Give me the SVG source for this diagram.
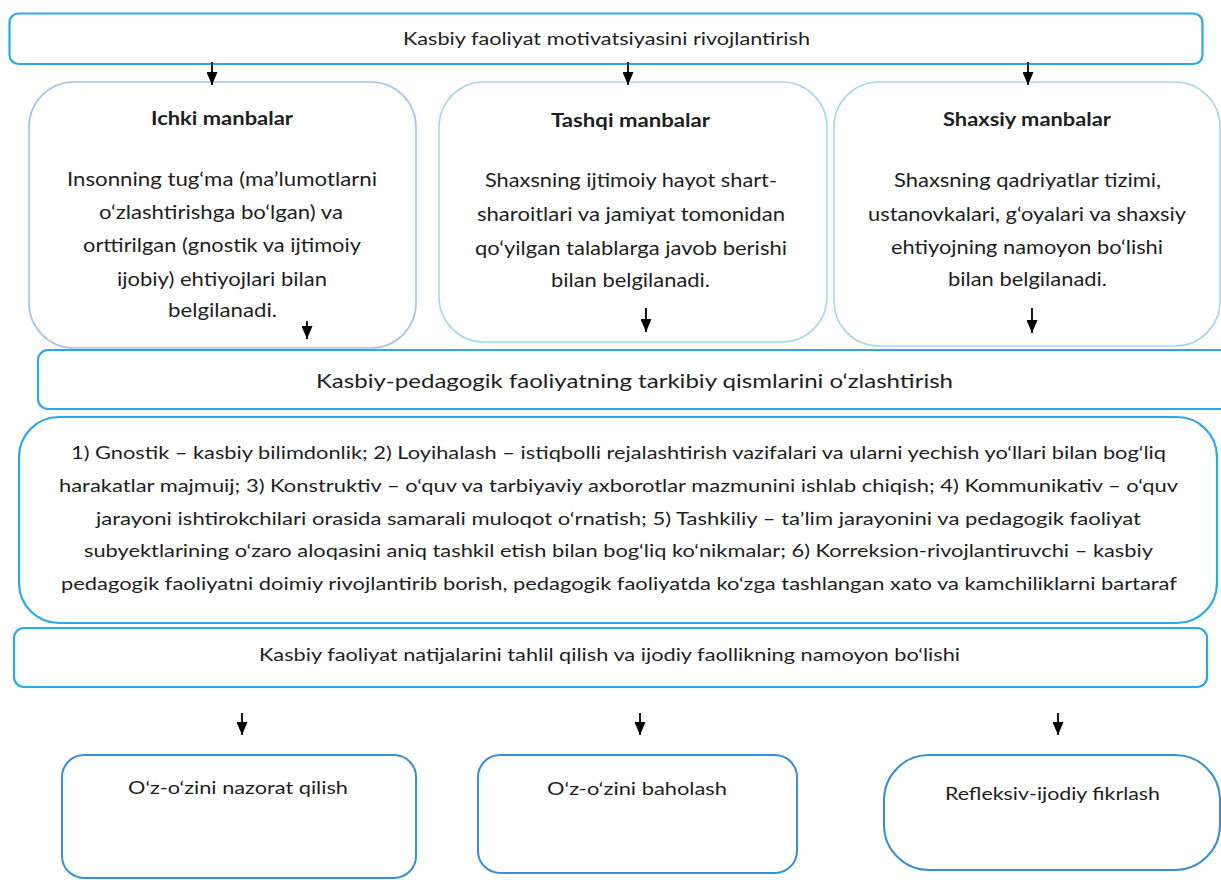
<svg xmlns="http://www.w3.org/2000/svg" width="1221" height="880" viewBox="0 0 1221 880">
<style>
text{font-family:Lato,"Open Sans","Noto Sans",sans-serif;fill:#1e1e1e;text-anchor:middle}
.t18{font-size:18px}
.t20{font-size:20px}
.b{font-size:19px;font-weight:bold}
.box{fill:#fff}
.c1{stroke:#2aa9ea;stroke-width:2.2}
.c2{stroke:#9fc4ee;stroke-width:1.6}
.c3{stroke:#a8d8ea;stroke-width:1.6}
.c4{stroke:#3b8fd6;stroke-width:2}
.arr{stroke:#000;stroke-width:1.8;fill:none;marker-end:url(#ah)}
</style>
<defs>
<marker id="ah" viewBox="0 0 13 11" refX="13" refY="5.5" markerWidth="13" markerHeight="11" markerUnits="userSpaceOnUse" orient="auto">
<path d="M0,0 L13,5.5 L0,11 z" fill="#000"/>
</marker>
</defs>
<rect width="1221" height="880" fill="#fff"/>
<g id="node-top">
<rect class="box c1" x="9.5" y="13.5" width="1193" height="50.5" rx="9"/>
<text class="t18" x="606.5" y="45" textLength="407" lengthAdjust="spacingAndGlyphs">Kasbiy faoliyat motivatsiyasini rivojlantirish</text>
</g>
<g id="node-ichki">
<rect class="box c2" x="29" y="82" width="387" height="266" rx="45"/>
<text class="b" x="222" y="125" textLength="142" lengthAdjust="spacingAndGlyphs">Ichki manbalar</text>
<text class="t20" x="222" y="186" textLength="310" lengthAdjust="spacingAndGlyphs">Insonning tug‘ma (ma’lumotlarni</text>
<text class="t20" x="221" y="219" textLength="244" lengthAdjust="spacingAndGlyphs">o‘zlashtirishga bo‘lgan) va</text>
<text class="t20" x="222" y="252" textLength="278" lengthAdjust="spacingAndGlyphs">orttirilgan (gnostik va ijtimoiy</text>
<text class="t20" x="222" y="286" textLength="210" lengthAdjust="spacingAndGlyphs">ijobiy) ehtiyojlari bilan</text>
<text class="t20" x="222.5" y="317" textLength="109" lengthAdjust="spacingAndGlyphs">belgilanadi.</text>
</g>
<g id="node-tashqi">
<rect class="box c3" x="439" y="82" width="388" height="260" rx="45"/>
<text class="b" x="630.5" y="127" textLength="159" lengthAdjust="spacingAndGlyphs">Tashqi manbalar</text>
<text class="t20" x="631" y="187" textLength="292" lengthAdjust="spacingAndGlyphs">Shaxsning ijtimoiy hayot shart-</text>
<text class="t20" x="631" y="221" textLength="308" lengthAdjust="spacingAndGlyphs">sharoitlari va jamiyat tomonidan</text>
<text class="t20" x="631" y="255" textLength="312" lengthAdjust="spacingAndGlyphs">qo‘yilgan talablarga javob berishi</text>
<text class="t20" x="630.5" y="287" textLength="159" lengthAdjust="spacingAndGlyphs">bilan belgilanadi.</text>
</g>
<g id="node-shaxsiy">
<rect class="box c3" x="834" y="82" width="386" height="264" rx="45"/>
<text class="b" x="1027" y="126" textLength="168" lengthAdjust="spacingAndGlyphs">Shaxsiy manbalar</text>
<text class="t20" x="1027.5" y="187" textLength="267" lengthAdjust="spacingAndGlyphs">Shaxsning qadriyatlar tizimi,</text>
<text class="t20" x="1027" y="221" textLength="318" lengthAdjust="spacingAndGlyphs">ustanovkalari, g‘oyalari va shaxsiy</text>
<text class="t20" x="1027" y="254" textLength="272" lengthAdjust="spacingAndGlyphs">ehtiyojning namoyon bo‘lishi</text>
<text class="t20" x="1027.5" y="286" textLength="159" lengthAdjust="spacingAndGlyphs">bilan belgilanadi.</text>
</g>
<g id="node-tarkibiy">
<rect class="box c1" x="38" y="350" width="1200" height="59" rx="10"/>
<text class="t20" x="634.5" y="388" textLength="637" lengthAdjust="spacingAndGlyphs">Kasbiy-pedagogik faoliyatning tarkibiy qismlarini o‘zlashtirish</text>
</g>
<g id="node-qismlar">
<rect class="box c1" x="19" y="417" width="1198" height="206" rx="40"/>
<text class="t18" x="618.5" y="459" textLength="1095" lengthAdjust="spacingAndGlyphs">1) Gnostik – kasbiy bilimdonlik; 2) Loyihalash – istiqbolli rejalashtirish vazifalari va ularni yechish yo‘llari bilan bog‘liq</text>
<text class="t18" x="618.5" y="492" textLength="1119" lengthAdjust="spacingAndGlyphs">harakatlar majmuij; 3) Konstruktiv – o‘quv va tarbiyaviy axborotlar mazmunini ishlab chiqish; 4) Kommunikativ – o‘quv</text>
<text class="t18" x="618.5" y="525" textLength="1045" lengthAdjust="spacingAndGlyphs">jarayoni ishtirokchilari orasida samarali muloqot o‘rnatish; 5) Tashkiliy – ta’lim jarayonini va pedagogik faoliyat</text>
<text class="t18" x="618.5" y="557" textLength="1069" lengthAdjust="spacingAndGlyphs">subyektlarining o‘zaro aloqasini aniq tashkil etish bilan bog‘liq ko‘nikmalar; 6) Korreksion-rivojlantiruvchi – kasbiy</text>
<text class="t18" x="619" y="590" textLength="1116" lengthAdjust="spacingAndGlyphs">pedagogik faoliyatni doimiy rivojlantirib borish, pedagogik faoliyatda ko‘zga tashlangan xato va kamchiliklarni bartaraf</text>
</g>
<g id="node-natijalar">
<rect class="box c1" x="14" y="628" width="1193" height="59" rx="10"/>
<text class="t18" x="609.5" y="661" textLength="701" lengthAdjust="spacingAndGlyphs">Kasbiy faoliyat natijalarini tahlil qilish va ijodiy faollikning namoyon bo‘lishi</text>
</g>
<g id="node-nazorat">
<rect class="box c4" x="62" y="755" width="354" height="123" rx="22"/>
<text class="t18" x="238" y="794" textLength="220" lengthAdjust="spacingAndGlyphs">O‘z-o‘zini nazorat qilish</text>
</g>
<g id="node-baholash">
<rect class="box c4" x="478" y="755" width="319" height="118" rx="22"/>
<text class="t18" x="637" y="795" textLength="180" lengthAdjust="spacingAndGlyphs">O‘z-o‘zini baholash</text>
</g>
<g id="node-refleksiv">
<rect class="box c4" x="884" y="755" width="336" height="115" rx="45"/>
<text class="t18" x="1052.5" y="800" textLength="215" lengthAdjust="spacingAndGlyphs">Refleksiv-ijodiy fikrlash</text>
</g>
<g id="connectors">
<line class="arr" x1="212" y1="62" x2="212" y2="85"/>
<line class="arr" x1="628" y1="62" x2="628" y2="85"/>
<line class="arr" x1="1028" y1="62" x2="1028" y2="85"/>
<line class="arr" x1="307" y1="321" x2="307" y2="339"/>
<line class="arr" x1="646" y1="308" x2="646" y2="332"/>
<line class="arr" x1="1032" y1="308" x2="1032" y2="333"/>
<line class="arr" x1="242" y1="713" x2="242" y2="735"/>
<line class="arr" x1="640" y1="713" x2="640" y2="735"/>
<line class="arr" x1="1058" y1="713" x2="1058" y2="735"/>
</g>
</svg>
